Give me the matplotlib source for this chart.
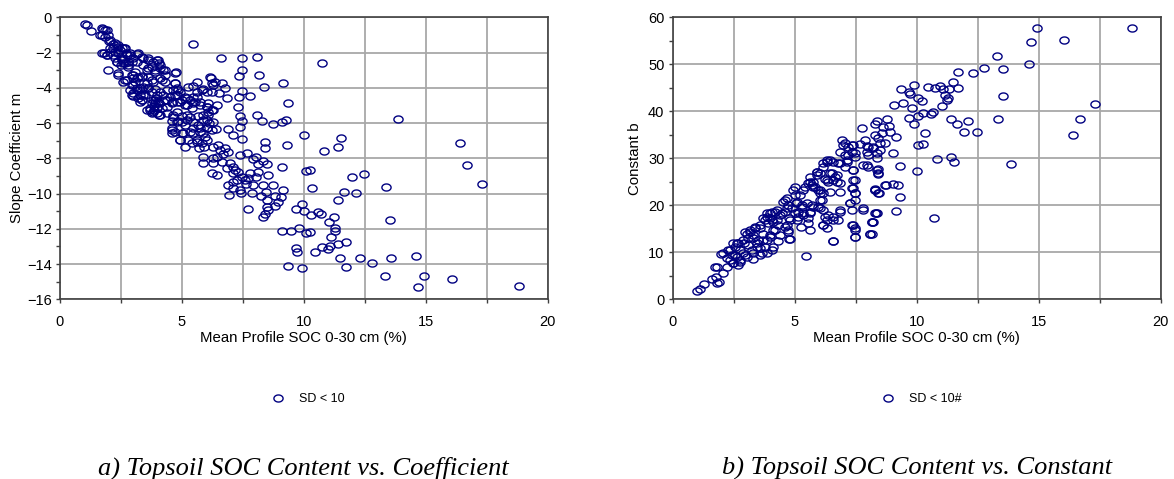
import numpy as np
import matplotlib
matplotlib.use("Agg")
import matplotlib.pyplot as plt
from matplotlib.path import Path
from matplotlib.lines import Line2D
from matplotlib.ticker import MultipleLocator

# ---------------- data ----------------
# panel a: Mean profile SOC (%) vs slope coefficient m
soc_a = [
    10.73, 9.16, 9.34, 9.25, 9.09, 13.85, 10.00, 11.52, 11.41, 9.30, 10.81, 16.42, 16.70, 17.30,
    9.09, 10.10, 10.26, 12.48, 11.96, 13.36, 10.35, 9.16, 9.06, 11.65, 12.14, 11.40, 9.91, 9.68,
    10.02, 10.59, 10.69, 10.28, 11.22, 11.02, 13.53, 11.29, 9.81, 11.28, 10.08, 10.25, 9.46, 9.09,
    11.11, 11.72, 11.40, 11.07, 10.76, 10.98, 10.47, 9.69, 9.72, 11.50, 12.30, 12.79, 13.56, 14.60,
    11.72, 9.36, 9.91, 13.32, 14.93, 16.06, 14.68, 18.82,
    5.44, 6.59, 7.48, 8.09, 7.48, 8.17, 7.34, 8.37, 7.48, 6.18, 6.23, 6.63, 6.78, 6.53, 6.86, 7.33,
    7.78, 7.29, 8.07, 7.37, 7.45, 8.30, 8.72, 7.39, 6.88, 6.40, 7.11, 7.46, 8.41, 8.41, 7.66, 7.38,
    8.03, 7.93, 8.34, 8.48, 8.13, 7.79, 8.12, 8.52, 8.05, 7.61, 7.93, 8.34, 8.72, 8.44, 7.87, 7.41,
    6.94, 8.26, 8.80, 8.48, 8.94, 8.83, 7.71, 8.48, 8.53, 8.42, 8.31,
    1.02, 1.12, 1.27, 1.64, 1.78, 1.91, 1.83, 2.01, 2.19, 2.39, 1.71, 1.80, 1.94, 2.24, 2.05, 2.46,
    2.62, 2.70, 2.25, 2.32, 2.53, 2.60, 2.80, 2.87, 2.98, 3.14, 2.80, 2.49, 1.97, 2.39, 2.57, 2.73,
    2.94, 3.01, 3.08, 3.21, 3.35, 3.17, 3.42, 3.62, 3.96, 4.07, 4.10, 3.76, 3.56, 3.90, 4.32, 4.29,
    4.74, 4.17, 3.83, 3.56, 2.98, 3.14, 3.28, 3.35, 3.01, 2.98, 3.21, 3.28, 3.42, 3.62, 3.76, 3.90,
    3.96, 4.10, 4.37, 4.71, 4.78, 4.92, 4.78, 4.51, 4.31, 4.07, 3.90, 3.76, 3.69, 3.85, 3.96, 4.07,
    3.76, 4.17, 4.37, 4.58, 4.78, 4.99, 5.13, 5.26, 5.61, 5.47, 5.85, 5.61, 5.33, 5.19, 5.47, 5.74,
    6.08, 6.01, 6.29, 6.08, 5.88, 5.67, 5.33, 4.99, 4.78, 4.65, 4.58, 4.85, 5.13, 5.19, 5.44, 5.74,
    6.01, 6.12, 6.01, 5.85, 5.47, 4.99, 4.58, 4.58, 4.92, 5.13, 5.40, 5.61, 5.81, 5.71, 5.90, 6.01,
    6.29, 6.49, 6.56, 6.77, 6.90, 6.70, 6.45, 6.29, 5.88, 5.88, 6.26, 6.63, 6.97, 7.11, 6.84, 7.18,
    7.31, 7.45, 7.25, 7.11, 6.90, 7.11, 7.38, 6.22, 6.42, 7.58, 7.72, 7.11,
    3.85, 3.96, 4.03, 3.94, 3.56, 3.35, 2.87, 2.94, 3.08,
    1.71, 1.85, 1.71, 1.98, 2.05, 2.26, 2.39, 2.53, 2.67, 2.19, 2.05, 1.91, 2.19, 2.39, 2.73, 2.87,
    3.21, 3.35, 3.62, 3.83, 4.03, 4.10, 2.53, 2.32, 2.67, 2.94, 2.80, 3.42, 3.62, 3.90, 4.24, 2.39,
    2.67, 3.01, 3.14, 3.35, 3.62, 3.76, 4.10, 4.31, 4.71, 4.71, 2.94, 3.14, 3.42, 3.62, 3.28, 3.49,
    3.35, 3.83, 3.90, 3.96, 3.83, 3.69, 4.10, 4.37, 4.24, 4.37, 4.58, 4.71, 4.85, 4.65, 4.92, 5.13,
    4.65, 4.78, 4.58, 4.71, 5.06, 4.99, 5.19, 5.40, 5.19, 5.47, 5.61, 5.81, 6.01, 6.22, 6.29, 6.15,
    6.35, 5.54, 5.74, 6.01, 6.22, 6.42, 6.08, 6.29, 5.88, 5.67, 5.47, 5.33, 5.74, 6.01, 6.22, 5.95,
    5.61, 5.26, 4.92,
]
slope_m = [
    -2.59, -3.71, -4.88, -5.84, -5.96, -5.77, -6.68, -6.87, -7.34, -7.26, -7.59, -7.11, -8.36, -9.44,
    -8.47, -8.72, -8.66, -8.89, -9.06, -9.65, -9.67, -9.80, -10.21, -9.93, -9.95, -10.35, -10.57, -10.90,
    -10.99, -11.07, -11.18, -11.24, -11.35, -11.60, -11.48, -11.94, -11.94, -12.11, -12.26, -12.20, -12.12, -12.11,
    -12.47, -12.75, -12.88, -12.98, -13.05, -13.16, -13.30, -13.11, -13.30, -13.68, -13.64, -13.94, -13.64, -13.56,
    -14.18, -14.13, -14.22, -14.68, -14.66, -14.87, -15.28, -15.25,
    -1.51, -2.31, -2.31, -2.27, -2.99, -3.29, -3.33, -3.94, -4.20, -3.44, -3.71, -3.75, -3.99, -4.28, -4.60, -4.50,
    -4.45, -5.09, -5.52, -5.58, -5.86, -5.86, -6.05, -6.24, -6.34, -6.34, -6.68, -6.92, -7.06, -7.40, -7.68, -7.83,
    -7.91, -8.02, -8.15, -8.34, -8.31, -8.82, -8.76, -8.95, -9.04, -9.46, -9.53, -9.51, -9.53, -9.89, -9.95, -9.95,
    -10.06, -10.14, -10.14, -10.37, -10.46, -10.69, -10.88, -10.74, -10.95, -11.14, -11.35,
    -0.38, -0.42, -0.78, -1.02, -0.68, -0.74, -1.10, -1.35, -1.50, -1.57, -2.01, -2.04, -2.14, -1.95, -1.76, -1.86,
    -1.76, -2.04, -2.33, -2.52, -2.42, -2.61, -2.52, -2.14, -2.33, -2.52, -2.80, -2.71, -2.99, -3.27, -3.65, -3.56,
    -3.27, -3.46, -3.65, -3.37, -3.33, -2.08, -2.33, -2.42, -2.42, -2.58, -2.89, -2.80, -2.99, -3.09, -2.99, -3.26,
    -3.10, -3.56, -3.65, -3.71, -3.84, -4.03, -4.03, -4.12, -4.31, -4.47, -4.60, -4.79, -4.41, -4.03, -4.22, -4.09,
    -4.41, -4.22, -4.12, -3.75, -4.03, -4.22, -4.41, -4.50, -4.69, -4.88, -4.69, -4.88, -5.16, -5.26, -5.41, -5.54,
    -5.45, -5.16, -5.11, -4.88, -4.79, -4.69, -4.50, -3.97, -3.65, -3.90, -4.09, -4.50, -4.69, -4.98, -4.88, -4.79,
    -4.88, -5.11, -5.26, -5.36, -5.54, -5.60, -5.64, -5.60, -5.36, -5.64, -5.87, -5.87, -6.11, -5.83, -5.92, -6.30,
    -5.83, -6.01, -6.30, -6.58, -6.58, -6.58, -6.30, -6.55, -6.96, -7.34, -7.11, -7.06, -7.15, -7.43, -7.34, -6.96,
    -7.34, -7.25, -7.53, -7.43, -7.62, -7.76, -7.91, -8.00, -7.91, -8.25, -8.28, -8.19, -8.28, -8.47, -8.57, -8.66,
    -8.76, -9.04, -9.23, -9.33, -9.51, -9.70, -9.80, -8.85, -8.95, -9.23, -9.14, -8.85,
    -5.03, -5.11, -4.79, -4.60, -5.26, -4.69, -4.12, -4.41, -3.09,
    -0.62, -0.72, -1.00, -1.00, -1.29, -1.48, -1.67, -1.76, -1.76, -1.76, -1.95, -2.14, -2.14, -2.04, -2.14, -2.04,
    -2.04, -2.24, -2.33, -2.52, -2.42, -2.71, -2.33, -2.52, -2.61, -2.52, -2.71, -2.71, -2.89, -2.99, -2.99, -3.18,
    -3.56, -3.27, -3.46, -3.37, -3.37, -3.56, -3.46, -3.65, -3.18, -3.75, -3.84, -4.12, -3.94, -4.03, -4.41, -4.41,
    -4.69, -4.69, -4.88, -5.16, -5.36, -5.26, -5.54, -5.45, -4.41, -4.69, -4.79, -4.41, -4.12, -4.12, -4.79, -4.98,
    -5.54, -5.92, -6.39, -6.49, -6.58, -5.92, -5.54, -5.16, -4.60, -4.50, -4.22, -4.12, -4.22, -4.22, -3.84, -3.37,
    -3.65, -4.79, -4.98, -5.07, -5.26, -4.98, -5.54, -5.92, -5.83, -6.11, -6.30, -6.49, -6.49, -6.30, -6.39, -6.77,
    -6.96, -6.96, -6.96,
]

# panel b: Mean profile SOC (%) vs constant b
soc_b = [
    14.92, 18.82, 14.67, 16.05, 13.29, 14.59, 12.77, 13.55, 12.30, 11.71, 11.48, 11.71, 11.34, 10.96,
    11.09, 10.75, 10.48, 11.16, 11.30, 11.23, 11.02, 10.68, 10.59, 10.27, 10.20, 10.07, 9.90, 9.70,
    9.73, 9.36, 9.45, 9.08, 9.80, 10.04, 9.68, 9.90, 13.52, 17.31, 13.34, 11.41, 11.64, 12.11,
    16.68, 16.41, 11.95, 12.46, 10.34, 10.25, 10.07, 13.85, 11.39, 11.53, 10.82, 10.00, 9.30, 9.02,
    10.72, 9.14, 9.32, 9.25, 9.04, 8.73, 8.47, 8.29, 8.33, 8.20, 8.16, 8.43, 8.43, 8.50, 8.36, 9.15,
    8.91, 8.77, 8.36, 8.29, 8.57, 8.63, 8.88, 8.70, 8.22, 8.43,
    1.01, 1.12, 1.30, 1.60, 1.77, 1.80, 1.91, 1.73, 1.83, 1.97, 2.07, 2.21, 2.35, 2.28, 2.48, 2.42,
    2.62, 2.69, 2.76, 2.55, 2.62, 2.89, 3.03, 2.92, 3.10, 3.03, 3.17, 3.30, 3.24, 3.30, 3.44, 3.51,
    3.37, 3.58, 3.71, 3.65, 3.78, 3.85, 3.71, 3.85, 3.99, 4.06, 3.92, 4.12, 3.99, 4.06, 4.19, 4.26,
    4.33, 4.47, 4.60, 4.67, 4.78, 4.60, 4.74, 4.78, 4.94, 5.01, 5.07, 5.01, 5.15, 5.29, 5.35, 5.25,
    5.46, 5.42, 5.63, 5.70, 5.76, 5.90, 5.97, 6.04, 5.70, 5.63, 5.56, 5.63, 6.11, 6.04, 6.17, 6.17,
    6.24, 6.17, 6.31, 6.45, 6.24, 6.38, 6.52, 6.65, 6.72, 6.45, 6.38, 6.58, 6.79, 6.58, 6.86, 6.93,
    6.99, 6.86, 7.06, 7.13, 6.79, 7.20, 7.40, 7.34, 7.47, 7.40, 7.47, 7.40, 7.47, 7.27, 7.34, 7.40,
    7.47, 7.47, 6.86, 7.75, 7.88, 8.02, 7.95, 7.81, 8.02, 8.29, 8.29, 8.29, 7.81, 8.16, 8.09, 7.47,
    7.06, 7.34, 7.68, 7.95, 8.22, 8.50, 7.20, 7.47, 8.02, 8.36, 6.31, 6.58, 6.86, 7.13, 7.06, 7.40,
    7.95, 8.36, 8.43, 6.17, 5.90, 6.04, 6.45, 6.72, 6.31, 6.58, 6.86, 7.40, 7.34, 7.47, 7.27, 7.81,
    8.29, 8.43, 8.70, 8.36, 8.16, 8.09, 7.47, 7.47, 7.34, 6.58, 6.86, 6.58, 6.31, 6.17, 6.31, 5.90,
    5.63, 5.76, 5.56, 5.83, 6.04, 6.17, 6.04, 5.97, 5.76, 5.63, 5.35, 5.22, 5.08, 5.29, 5.49, 5.15,
    5.35, 5.56, 5.08, 4.81, 4.67, 4.74, 4.81, 5.01, 4.67, 4.53, 4.74, 4.88, 4.60, 4.40, 4.26, 4.06,
    3.85, 3.99, 3.78, 4.12, 4.33, 4.19, 4.40, 3.99, 4.12, 3.71, 3.58, 3.37, 3.17, 2.96, 3.30, 3.10,
    3.44, 3.58, 3.30, 2.89, 2.69, 2.48, 2.76, 2.96, 2.55, 2.35, 2.21, 2.48, 2.76, 2.07, 3.85, 3.58,
]
const_b = [
    57.7, 57.7, 54.8, 55.1, 51.8, 50.1, 49.2, 49.1, 48.1, 48.3, 46.3, 45.0, 44.7, 45.4,
    44.7, 44.9, 45.2, 43.5, 42.8, 42.4, 41.1, 39.9, 39.4, 39.7, 42.2, 42.9, 45.6, 44.2,
    43.6, 44.8, 41.8, 41.3, 40.8, 38.9, 38.6, 37.4, 43.3, 41.6, 38.4, 38.4, 37.4, 38.0,
    38.4, 34.9, 35.5, 35.6, 35.3, 33.0, 32.8, 28.7, 30.2, 29.2, 29.8, 27.2, 28.3, 31.1,
    17.4, 18.7, 21.8, 24.3, 24.5, 24.3, 22.7, 23.4, 18.4, 16.5, 13.9, 26.6, 27.7, 31.8, 30.1, 34.6,
    35.7, 38.3, 37.9, 35.0, 35.3, 36.7, 36.9, 33.3, 32.5, 34.3,
    1.8, 2.1, 3.2, 4.3, 4.8, 3.5, 3.7, 6.9, 6.9, 9.6, 5.5, 6.9, 8.4, 10.5, 7.7, 9.4,
    9.1, 7.3, 8.4, 11.2, 12.0, 9.8, 9.1, 11.9, 11.6, 14.0, 14.4, 13.0, 10.5, 8.5, 11.2, 12.6,
    15.4, 15.1, 14.0, 9.8, 11.2, 12.6, 17.2, 17.6, 18.3, 16.9, 16.2, 14.7, 13.7, 10.5, 18.6, 16.9,
    12.3, 18.3, 21.1, 19.4, 17.2, 15.4, 14.4, 12.8, 23.3, 22.2, 20.4, 18.3, 17.6, 20.1, 18.3, 15.4,
    9.3, 24.0, 25.0, 24.3, 24.0, 27.1, 23.3, 22.6, 20.1, 18.3, 16.2, 14.7, 21.1, 19.4, 19.0, 15.8,
    17.6, 28.9, 29.3, 29.6, 25.7, 25.0, 26.8, 26.1, 25.0, 22.9, 17.9, 16.9, 16.9, 12.5, 22.9, 33.9,
    32.8, 31.4, 30.7, 29.3, 28.9, 32.5, 32.8, 31.4, 30.3, 27.5, 25.4, 23.6, 22.6, 20.4, 19.0, 15.8,
    14.7, 13.3, 19.0, 36.5, 33.9, 32.5, 31.4, 28.6, 28.2, 37.4, 23.3, 18.3, 19.4, 16.5, 14.0, 21.1,
    33.2, 32.8, 33.0, 32.6, 32.1, 33.2, 30.7, 31.1, 30.7, 31.1, 29.6, 29.3, 28.9, 29.6, 28.2, 27.5,
    28.6, 27.5, 26.8, 28.2, 27.1, 26.8, 26.8, 26.4, 25.4, 25.4, 24.7, 25.4, 23.6, 22.6, 20.4, 19.1,
    23.3, 22.6, 24.3, 18.3, 16.5, 13.8, 15.1, 13.3, 15.8, 12.5, 18.6, 17.6, 16.9, 15.8, 15.1, 26.4,
    26.1, 25.0, 24.7, 24.0, 23.3, 22.6, 21.1, 19.7, 19.7, 18.6, 23.3, 22.2, 20.8, 19.7, 20.4, 18.6,
    17.9, 17.2, 16.9, 16.9, 15.8, 14.7, 12.8, 24.0, 21.5, 20.8, 20.1, 19.4, 18.6, 17.9, 19.0, 18.6,
    18.3, 17.2, 16.9, 16.5, 15.8, 14.7, 13.7, 13.3, 11.2, 12.6, 15.8, 15.1, 14.7, 14.4, 13.7, 13.0,
    11.9, 10.9, 9.8, 12.6, 11.9, 11.9, 10.5, 9.4, 9.4, 10.5, 8.7, 7.7, 8.0, 9.8, 9.8, 9.4,
]

x_label = "Mean Profile SOC 0-30 cm (%)"
y_label_a = "Slope Coefficient m"
y_label_b = "Constant b"
legend_a = "SD < 10"
legend_b = "SD < 10#"
caption_a = "a) Topsoil SOC Content vs. Coefficient"
caption_b = "b) Topsoil SOC Content vs. Constant"

# ---------------- style ----------------
plt.rcParams['font.family'] = ['Liberation Sans', 'DejaVu Sans']
DPI = 100
fig = plt.figure(figsize=(11.74, 4.79), dpi=DPI)

navy = '#000080'
grid_c = '#a8a8a8'
spine_c = '#404040'

# ellipse marker (wider than tall)
t = np.linspace(0, 2 * np.pi, 60)
ell = Path(np.column_stack([1.3 * np.cos(t), np.sin(t)]), closed=True)


def style_axes(ax, xlim, ylim, ymaj, ymin):
    ax.set_xlim(*xlim)
    ax.set_ylim(*ylim)
    ax.xaxis.set_major_locator(MultipleLocator(5))
    ax.xaxis.set_minor_locator(MultipleLocator(2.5))
    ax.yaxis.set_major_locator(MultipleLocator(ymaj))
    ax.yaxis.set_minor_locator(MultipleLocator(ymin))
    ax.grid(True, which='major', axis='y', color=grid_c, lw=1.3)
    ax.grid(True, which='both', axis='x', color=grid_c, lw=1.3)
    ax.set_axisbelow(True)
    for s in ax.spines.values():
        s.set_color(spine_c)
        s.set_linewidth(1.2)
    ax.tick_params(axis='both', which='both', direction='out', length=3,
                   width=1, color=spine_c, labelsize=10.5)
    ax.tick_params(axis='x', which='both', pad=8.5)
    ax.tick_params(axis='y', which='both', pad=3)


ax1 = fig.add_axes([60 / 1174, 1 - 299.3 / 479, 487.7 / 1174, 282 / 479])
ax1.plot(soc_a, slope_m, linestyle='none', marker=ell, markersize=6.6,
         mfc='none', mec=navy, mew=1.0)
style_axes(ax1, (0, 20), (-16, 0), 2, 1)
ax1.set_xlabel(x_label, fontsize=10.8, labelpad=1)
ax1.set_ylabel(y_label_a, fontsize=10.8, labelpad=2)

ax2 = fig.add_axes([672.7 / 1174, 1 - 299.3 / 479, 488 / 1174, 282 / 479])
ax2.plot(soc_b, const_b, linestyle='none', marker=ell, markersize=6.6,
         mfc='none', mec=navy, mew=1.0)
style_axes(ax2, (0, 20), (0, 60), 10, 5)
ax2.set_xlabel(x_label, fontsize=10.8, labelpad=1)
ax2.set_ylabel(y_label_b, fontsize=10.8, labelpad=4)

for ax, lab, cx in ((ax1, legend_a, 308.4 / 1174), (ax2, legend_b, 921.6 / 1174)):
    h = Line2D([], [], linestyle='none', marker=ell, markersize=6.6,
               mfc='none', mec=navy, mew=1.0)
    ax.legend([h], [lab], loc='center', bbox_to_anchor=(cx, 1 - 399 / 479),
              bbox_transform=fig.transFigure, frameon=False, fontsize=9,
              handlelength=1.0, handletextpad=1.2)

fig.text(303.8 / 1174, 1 - 475 / 479, caption_a, ha='center', va='baseline',
         fontsize=19, family=['Liberation Serif', 'DejaVu Serif'], style='italic')
fig.text(916.7 / 1174, 1 - 475 / 479, caption_b, ha='center', va='baseline',
         fontsize=19, family=['Liberation Serif', 'DejaVu Serif'], style='italic')

fig.savefig('out.png', dpi=DPI)
